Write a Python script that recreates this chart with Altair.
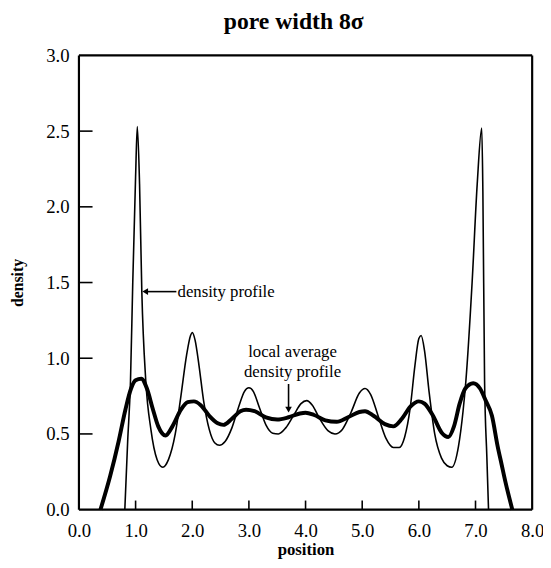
import altair as alt
import pandas as pd

# density profile (thin line)
thin_x = [0.81, 0.86, 0.91, 0.95, 1.00, 1.03, 1.07, 1.11, 1.18, 1.27, 1.38, 1.48,
          1.58, 1.70, 1.80, 1.90, 1.97, 2.00, 2.05, 2.12, 2.20, 2.30, 2.40, 2.48,
          2.58, 2.70, 2.82, 2.92, 3.00, 3.08, 3.18, 3.30, 3.42, 3.52, 3.65, 3.80,
          3.92, 4.02, 4.12, 4.25, 4.40, 4.52, 4.65, 4.80, 4.95, 5.05, 5.15, 5.28,
          5.42, 5.55, 5.65, 5.75, 5.85, 5.93, 6.00, 6.04, 6.10, 6.18, 6.28, 6.40,
          6.50, 6.58, 6.70, 6.78, 6.83, 6.94, 7.03, 7.11, 7.13, 7.16, 7.20, 7.23]
thin_y = [0.00, 0.45, 0.85, 1.50, 2.20, 2.53, 2.15, 1.44, 0.85, 0.53, 0.33, 0.28,
          0.33, 0.50, 0.75, 1.02, 1.15, 1.17, 1.12, 0.95, 0.72, 0.53, 0.44, 0.425,
          0.45, 0.54, 0.68, 0.78, 0.805, 0.78, 0.68, 0.56, 0.505, 0.50, 0.54, 0.63,
          0.70, 0.72, 0.69, 0.60, 0.52, 0.50, 0.53, 0.64, 0.77, 0.80, 0.76, 0.62,
          0.47, 0.41, 0.41, 0.48, 0.68, 0.95, 1.13, 1.15, 1.05, 0.78, 0.50, 0.34,
          0.29, 0.28, 0.42, 0.65, 0.85, 1.50, 2.15, 2.52, 2.10, 0.85, 0.35, 0.00]

# local average density profile (thick line)
avg_x = [0.38, 0.55, 0.70, 0.82, 0.92, 1.00, 1.10, 1.20, 1.30, 1.40, 1.53,
         1.65, 1.80, 1.92, 2.03, 2.15, 2.30, 2.45, 2.55, 2.70, 2.85, 2.95,
         3.10, 3.30, 3.50, 3.70, 3.90, 4.00, 4.15, 4.35, 4.55, 4.75, 4.95,
         5.05, 5.20, 5.40, 5.55, 5.70, 5.85, 6.00, 6.10, 6.25, 6.40, 6.52,
         6.62, 6.72, 6.82, 6.96, 7.08, 7.18, 7.29, 7.39, 7.46, 7.53, 7.65]
avg_y = [0.00, 0.22, 0.45, 0.66, 0.80, 0.855, 0.865, 0.80, 0.67, 0.55, 0.49,
         0.55, 0.66, 0.71, 0.715, 0.69, 0.62, 0.57, 0.56, 0.60, 0.65, 0.66,
         0.65, 0.61, 0.595, 0.61, 0.635, 0.64, 0.625, 0.59, 0.58, 0.61, 0.645,
         0.65, 0.62, 0.565, 0.55, 0.60, 0.68, 0.715, 0.70, 0.62, 0.51, 0.48,
         0.55, 0.70, 0.80, 0.835, 0.80, 0.72, 0.62, 0.42, 0.30, 0.18, 0.00]

x_ticks = [0, 1, 2, 3, 4, 5, 6, 7, 8]
y_ticks = [0.0, 0.5, 1.0, 1.5, 2.0, 2.5, 3.0]
x_inner_ticks = [1.0, 2.0, 3.0, 4.0, 5.0, 6.0, 7.0]
y_inner_ticks = [0.5, 1.0, 1.5, 2.0, 2.5]
x_domain = [0.0, 8.0]
y_domain = [0.0, 3.0]

FONT = "Liberation Serif"
W, H = 460, 461
X_TICK_LEN = 0.06   # in density units (about 9 px)
Y_TICK_LEN = 0.24   # in position units (about 14 px)

thin_df = pd.DataFrame({"position": thin_x, "density": thin_y})
avg_df = pd.DataFrame({"position": avg_x, "density": avg_y})

xs = alt.Scale(domain=x_domain, nice=False, zero=False)
ys = alt.Scale(domain=y_domain, nice=False, zero=False)

x_enc = alt.X("position:Q", scale=xs,
              axis=alt.Axis(values=x_ticks, format=".1f", title="position",
                            ticks=False, domain=False, grid=False,
                            labelFont=FONT, labelFontSize=19, labelColor="black",
                            labelPadding=12, titleFont=FONT, titleFontSize=17,
                            titleFontWeight="bold", titleColor="black",
                            titlePadding=2, labelFlush=False))
y_enc = alt.Y("density:Q", scale=ys,
              axis=alt.Axis(values=y_ticks, format=".1f", title="density",
                            ticks=False, domain=False, grid=False,
                            labelFont=FONT, labelFontSize=19, labelColor="black",
                            labelPadding=10, titleFont=FONT, titleFontSize=16,
                            titleFontWeight="bold", titleColor="black",
                            titlePadding=21, labelFlush=False))

thin = alt.Chart(thin_df).mark_line(color="black", strokeWidth=1.6,
                                    interpolate="monotone").encode(x=x_enc, y=y_enc)
avg = alt.Chart(avg_df).mark_line(color="black", strokeWidth=4,
                                  interpolate="monotone").encode(
    x=alt.X("position:Q", scale=xs), y=alt.Y("density:Q", scale=ys))


def hrule(xa, xb, yv, width):
    return alt.Chart(pd.DataFrame({"x": xa, "x2": xb, "y": yv})).mark_rule(
        color="black", strokeWidth=width).encode(
        x=alt.X("x:Q", scale=xs), x2="x2:Q", y=alt.Y("y:Q", scale=ys))


def vrule(xv, ya, yb, width):
    return alt.Chart(pd.DataFrame({"x": xv, "y": ya, "y2": yb})).mark_rule(
        color="black", strokeWidth=width).encode(
        x=alt.X("x:Q", scale=xs), y=alt.Y("y:Q", scale=ys), y2="y2:Q")


# frame edges from the axis domains
frame_h = hrule([x_domain[0], x_domain[0]], [x_domain[1], x_domain[1]],
                [y_domain[0], y_domain[1]], 2.2)
frame_v = vrule([x_domain[0], x_domain[1]], [y_domain[0], y_domain[0]],
                [y_domain[1], y_domain[1]], 2.2)
# inward ticks from the tick values
xt = vrule(x_inner_ticks, [y_domain[0]] * len(x_inner_ticks),
           [X_TICK_LEN] * len(x_inner_ticks), 1.6)
yt = hrule([x_domain[0]] * len(y_inner_ticks), [Y_TICK_LEN] * len(y_inner_ticks),
           y_inner_ticks, 1.6)

# annotations
t1 = alt.Chart(pd.DataFrame({"x": [1.74], "y": [1.44],
                             "label": ["density profile"]})).mark_text(
    font=FONT, fontSize=17, align="left", baseline="middle", color="black").encode(
    x=alt.X("x:Q", scale=xs), y=alt.Y("y:Q", scale=ys), text="label:N")
t2 = alt.Chart(pd.DataFrame({"x": [3.77, 3.77], "y": [1.04, 0.91],
                             "label": ["local average", "density profile"]})).mark_text(
    font=FONT, fontSize=17, align="center", baseline="middle", color="black").encode(
    x=alt.X("x:Q", scale=xs), y=alt.Y("y:Q", scale=ys), text="label:N")

arr_h = hrule([1.72], [1.17], [1.44], 1.6)
head_h = alt.Chart(pd.DataFrame({"x": [1.17], "y": [1.44]})).mark_point(
    shape="triangle-left", filled=True, color="black", size=45, opacity=1).encode(
    x=alt.X("x:Q", scale=xs), y=alt.Y("y:Q", scale=ys))
arr_v = vrule([3.70], [0.83], [0.66], 1.6)
head_v = alt.Chart(pd.DataFrame({"x": [3.70], "y": [0.66]})).mark_point(
    shape="triangle-down", filled=True, color="black", size=45, opacity=1).encode(
    x=alt.X("x:Q", scale=xs), y=alt.Y("y:Q", scale=ys))

chart = alt.layer(thin, avg, t1, t2, arr_h, head_h, arr_v, head_v,
                  frame_h, frame_v, xt, yt).properties(
    width=W, height=H,
    title=alt.TitleParams("pore width 8σ", font=FONT, fontSize=24,
                          fontWeight="bold", anchor="middle", dx=-12,
                          offset=13, color="black"),
    autosize=alt.AutoSizeParams(type="none"),
    padding={"left": 72, "top": 44, "right": 11, "bottom": 48},
).configure(background="white").configure_view(stroke=None)

chart.save("out.html", embed_options={"renderer": "svg", "actions": False})
